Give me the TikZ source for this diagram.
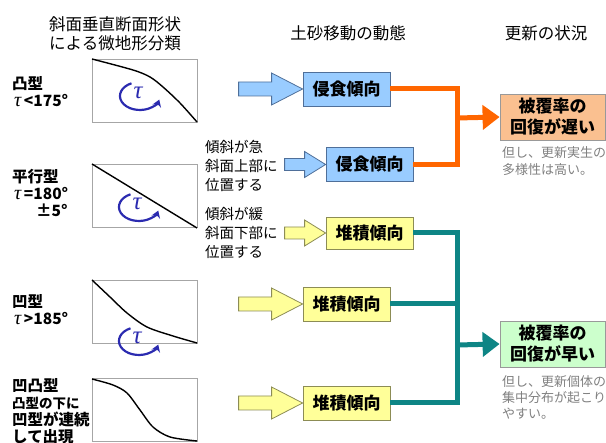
\documentclass[tikz,border=0pt]{standalone}
\usepackage{fontspec}
\setmainfont{Noto Sans CJK JP}
\newfontfamily\tauFont{Liberation Serif}
\newcommand{\tauSym}{{\tauFont\itshape\mdseries τ}}
\newcommand{\tauBig}{{\fontsize{20}{17}\selectfont\tauSym}}
\usetikzlibrary{arrows.meta,calc}
\definecolor{boxBlue}{HTML}{99CCFF}
\definecolor{lineBlue}{HTML}{4F6F99}
\definecolor{boxYellow}{HTML}{FFFF99}
\definecolor{lineYellow}{HTML}{8C8C55}
\definecolor{boxOrange}{HTML}{FAC090}
\definecolor{boxGreen}{HTML}{CCFFCC}
\definecolor{lineOrange}{HTML}{FF6600}
\definecolor{lineTeal}{HTML}{0E8585}
\definecolor{tauBlue}{HTML}{2B2BB0}
\definecolor{noteGray}{HTML}{808080}
\begin{document}
\begin{tikzpicture}
[x=1pt,y=-1pt,
  headDecorate/.style={font=\fontsize{16.5}{19}\selectfont,align=center,inner sep=0pt},%
  typeDecorate/.style={anchor=west,align=left,inner sep=0pt,font=\fontsize{15.5}{17}\selectfont\bfseries},%
  profileDecorate/.style={draw=gray!70,thick,minimum width=105pt,minimum height=63pt,inner sep=0pt},%
  curveDecorate/.style={line width=1.4pt},%
  tauDecorate/.style={text=tauBlue,inner sep=0pt,font=\fontsize{25}{25}\selectfont},%
  tauArc/.style={draw=tauBlue,line width=2.2pt,-{Stealth[length=7pt,width=9pt]}},%
  boxDecorate/.style={thick,minimum width=87pt,minimum height=34pt,inner sep=0pt,font=\fontsize{17}{17}\selectfont\bfseries},%
  blueBox/.style={boxDecorate,draw=lineBlue,fill=boxBlue},%
  yellowBox/.style={boxDecorate,draw=lineYellow,fill=boxYellow},%
  blueArrow/.style={thick,draw=lineBlue,fill=boxBlue},%
  yellowArrow/.style={thick,draw=lineYellow,fill=boxYellow},%
  resultDecorate/.style={thick,draw=gray!80,minimum width=105pt,minimum height=46pt,inner sep=0pt,align=center,font=\fontsize{17}{21}\selectfont\bfseries},%
  noteDecorate/.style={anchor=north west,align=left,inner sep=0pt,text=noteGray,font=\fontsize{13}{17.5}\selectfont},%
  slopeDecorate/.style={anchor=west,align=left,inner sep=0pt,font=\fontsize{14.5}{19}\selectfont},%
  orangeLine/.style={draw=lineOrange,line width=5pt},%
  tealLine/.style={draw=lineTeal,line width=5pt},%
  headTip/.style={-{Triangle[length=17pt,width=24pt]}}]
\useasboundingbox (0,0) rectangle (606,443);
%% headings
\node (hType) at (115,34) [headDecorate] {斜面垂直断面形状\\による微地形分類};
\node (hMove) at (348,33) [headDecorate] {土砂移動の動態};
\node (hRenew) at (546,33) [headDecorate] {更新の状況};
%% slope types
\node (l1) at (12,92) [typeDecorate] {凸型\\\hspace{2pt}\tauBig\,<175°};
\node (l2) at (12,193) [typeDecorate] {平行型\\\hspace{2pt}\tauBig\,=180°\\\hspace{24pt}±5°};
\node (l3) at (12,310) [typeDecorate] {凹型\\\hspace{2pt}\tauBig\,>185°};
\node (l4) at (12,378) [typeDecorate,anchor=north west] {凹凸型\\\fontsize{13.5}{15}\selectfont 凸型の下に\\凹型が連続\\して出現};
%% profiles
\foreach \nodename/\y in {p1/90.5, p2/196, p3/311.5, p4/410}
{
  \node (\nodename) at (144.5,\y) [profileDecorate] {};
}
\draw[curveDecorate] plot[smooth] coordinates {(92,59) (133,70) (150,77) (163,87) (180,103) (197,122)};
\draw[curveDecorate] (92,164) -- (197,228);
\draw[curveDecorate] plot[smooth] coordinates {(92,280) (110,297) (127,313) (147,327) (173,336) (197,343)};
\draw[curveDecorate] plot[smooth] coordinates {(92,379) (113,385) (127,393) (140,410) (153,427) (170,437) (197,441)};
%% tau
\foreach \i/\cx/\cy in {1/140/96, 2/139/207, 3/139/341}
{
  \node (tau\i) at (\cx-2,\cy-3) [tauDecorate] {\tauSym};
  \draw[tauArc] (\cx-8.5,\cy-12.7) arc[start angle=-115,end angle=-345,x radius=20,y radius=14];
}
%% sediment movement
\node (e1) at (346.5,89) [blueBox] {侵食傾向};
\node (e2) at (369.5,164.5) [blueBox] {侵食傾向};
\node (d1) at (369.5,233) [yellowBox,minimum height=32pt] {堆積傾向};
\node (d2) at (346.5,304) [yellowBox] {堆積傾向};
\node (d3) at (346.5,403) [yellowBox] {堆積傾向};
\node (t1) at (205,166) [slopeDecorate] {傾斜が急\\斜面上部に\\位置する};
\node (t2) at (205,233) [slopeDecorate] {傾斜が緩\\斜面下部に\\位置する};
%% block arrows
\foreach \b/\c/\len/\hl/\hw/\bw in {e1/blueArrow/64/31/16/7, e2/blueArrow/41/21/13/6, d1/yellowArrow/41/21/13/6, d2/yellowArrow/64/31/16/7, d3/yellowArrow/64/31/16/7}
{
  \draw[\c] ($(\b.west)+(-\len,-\bw)$) -- ($(\b.west)+(-\hl,-\bw)$) -- ($(\b.west)+(-\hl,-\hw)$)
    -- (\b.west) -- ($(\b.west)+(-\hl,\hw)$) -- ($(\b.west)+(-\hl,\bw)$) -- ($(\b.west)+(-\len,\bw)$) -- cycle;
}
%% renewal
\node (r1) at (552.5,117) [resultDecorate,fill=boxOrange] {被覆率の\\回復が遅い};
\node (r2) at (552.5,344) [resultDecorate,fill=boxGreen] {被覆率の\\回復が早い};
\node (n1) at (502,146) [noteDecorate] {但し、更新実生の\\多様性は高い。};
\node (n2) at (502,375) [noteDecorate,font=\fontsize{13}{16}\selectfont] {但し、更新個体の\\集中分布が起こり\\やすい。};
%% connectors
\coordinate (j1) at (457,118);
\coordinate (j2) at (457,345);
\draw[orangeLine] (e1.east) -| (j1) |- (e2.east);
\draw[orangeLine,headTip] (j1) -- (r1.west);
\draw[tealLine] (d1.east) -| (j2) |- (d3.east);
\draw[tealLine] (d2.east) -- (d2.east -| j2);
\draw[tealLine,headTip] (j2) -- (r2.west);
\end{tikzpicture}
\end{document}
